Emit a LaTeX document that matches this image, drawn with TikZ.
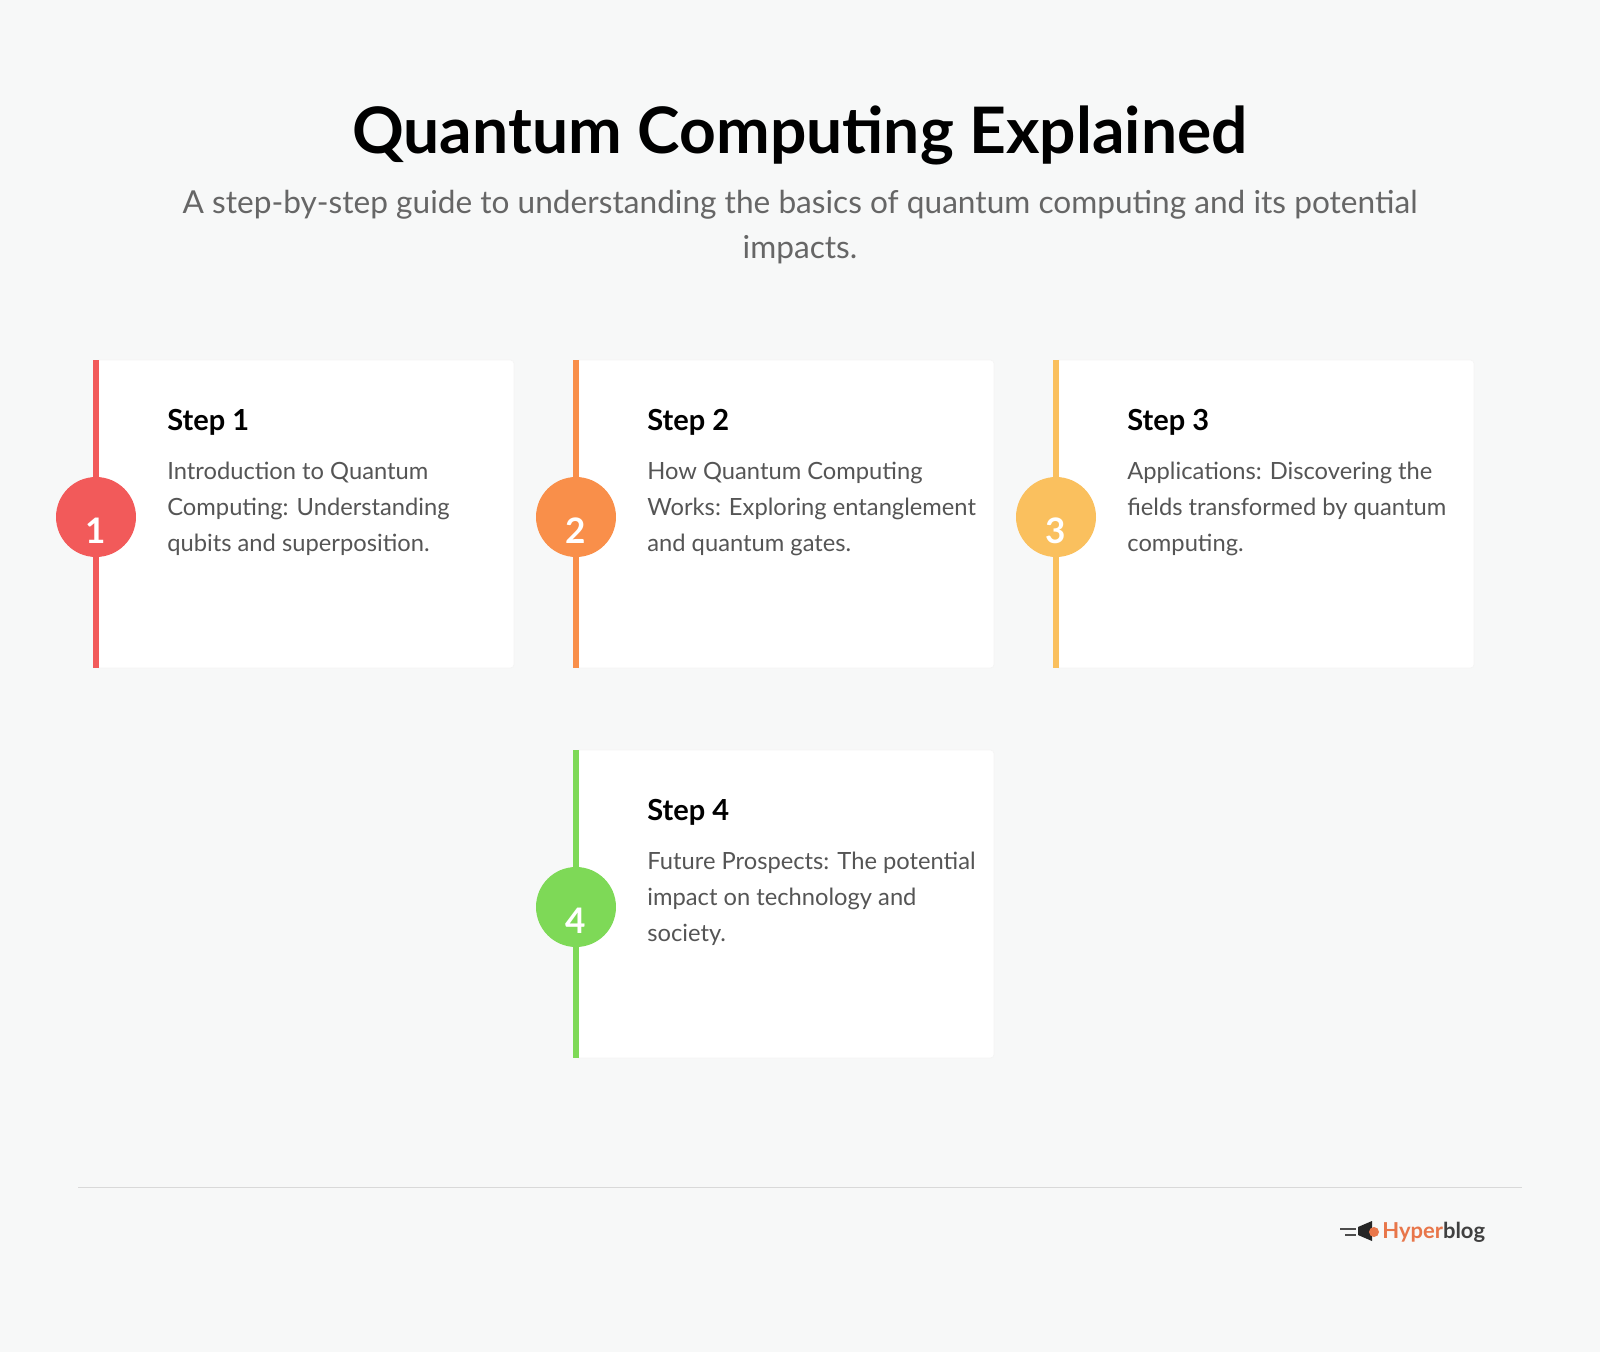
\documentclass[tikz,border=0pt]{standalone}
\usepackage{fontspec}
\setmainfont{Lato}
\usepackage{tikz}
\usetikzlibrary{positioning}
\definecolor{cBg}{HTML}{F7F8F8}
\definecolor{cOne}{HTML}{F25A5A}
\definecolor{cTwo}{HTML}{F98F4A}
\definecolor{cThree}{HTML}{FAC05E}
\definecolor{cFour}{HTML}{7ED957}
\definecolor{cBody}{HTML}{555555}
\definecolor{cLogo}{HTML}{E8764A}
\tikzset{
  card/.style={fill=white, draw=black!4, rounded corners=2pt},
  badge/.style={circle, minimum size=1.6cm, inner sep=0pt, text=white, font=\fontsize{20}{20}\selectfont\bfseries},
  stephead/.style={anchor=base west, inner sep=0pt, font=\fontsize{16.5}{16.5}\selectfont\bfseries},
  stepbody/.style={anchor=north west, inner sep=0pt, align=left, text=cBody, font=\fontsize{13.5}{20.5}\selectfont}
}
\begin{document}
\begin{tikzpicture}[x=0.02cm, y=-0.02cm]
\fill[cBg] (0,0) rectangle (1600,1352);
\useasboundingbox (0,0) rectangle (1600,1352);
\node (title) at (800,135) {\fontsize{36.5}{36.5}\selectfont\bfseries Quantum Computing Explained};
\node[align=center, text=black!60, font=\fontsize{18}{25.5}\selectfont] (sub) at (800,227)
  {A step-by-step guide to understanding the basics of quantum computing and its potential\\impacts.};
% cards
\def\card#1#2#3#4#5#6{%
  \fill[card] (#1,#2) rectangle ++(418,308);
  \draw[#3, line width=3.5pt] (#1,#2) -- ++(0,308);
  \node[badge, fill=#3] (b#4) at (#1,#2+157) {};
  \node[text=white, font=\fontsize{20}{20}\selectfont\bfseries] (n#4) at (#1,#2+171) {#4};
  \node[stephead] (h#4) at (#1+71,#2+70) {#5};
  \node[stepbody] (t#4) at (#1+71,#2+102) {#6};
}
\card{96}{360}{cOne}{1}{Step 1}{Introduction to Quantum\\Computing: Understanding\\qubits and superposition.}
\card{576}{360}{cTwo}{2}{Step 2}{How Quantum Computing\\Works: Exploring entanglement\\and quantum gates.}
\card{1056}{360}{cThree}{3}{Step 3}{Applications: Discovering the\\fields transformed by quantum\\computing.}
\card{576}{750}{cFour}{4}{Step 4}{Future Prospects: The potential\\impact on technology and\\society.}
% footer
\draw[black!15] (78,1187) -- (1522,1187);
\fill[black!85] (1358,1227) -- (1372,1221) -- (1372,1241) -- (1358,1235) -- cycle;
\fill[cLogo] (1374,1232) circle[radius=5];
\draw[black!70, line width=0.8pt] (1340,1229) -- (1356,1229) (1345,1235) -- (1356,1235);
\node[anchor=west, inner sep=0pt, font=\fontsize{12.5}{12.5}\selectfont\bfseries] (logo) at (1382,1232)
  {\textcolor{cLogo}{Hyper}\textcolor{black!75}{blog}};
\end{tikzpicture}
\end{document}
